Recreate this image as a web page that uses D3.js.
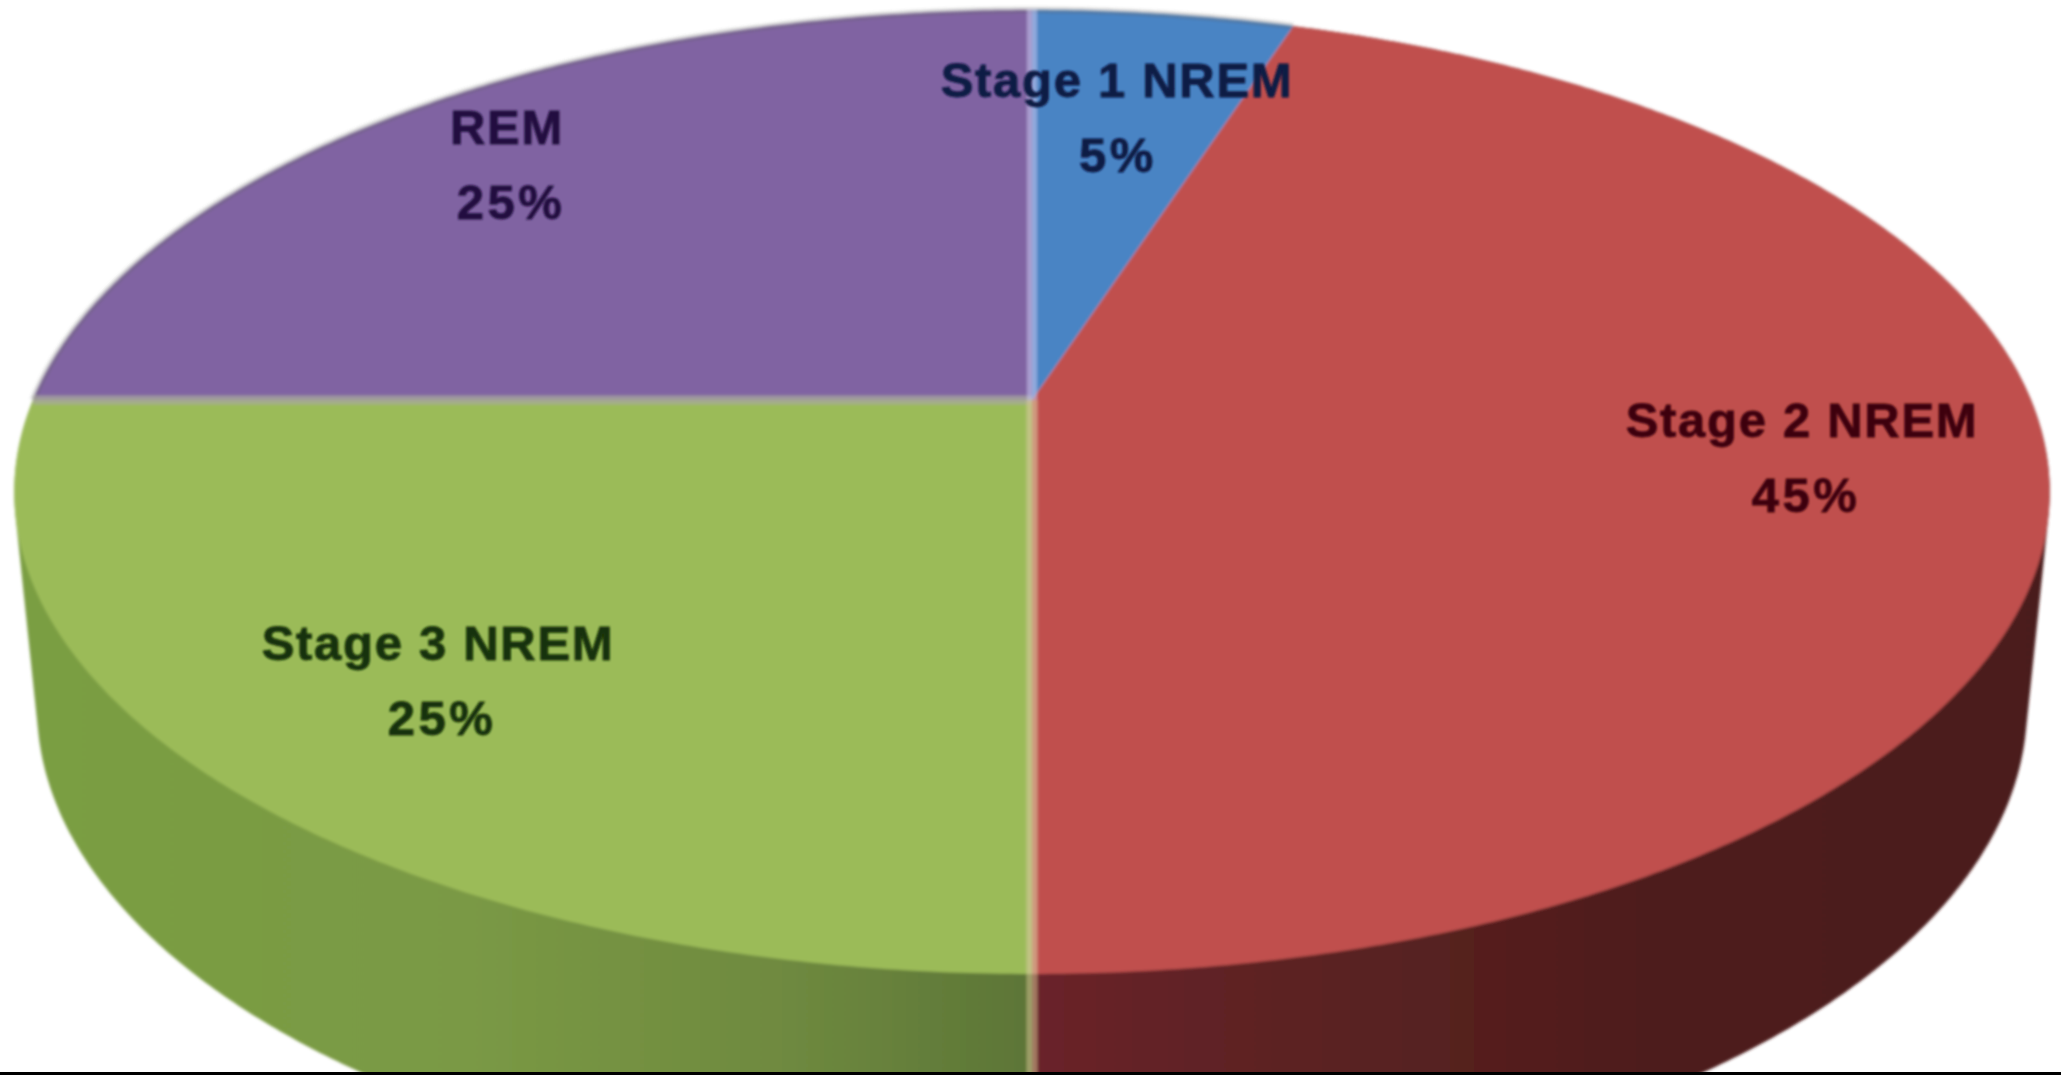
<!DOCTYPE html>
<html>
<head>
<meta charset="utf-8">
<script src="https://cdnjs.cloudflare.com/ajax/libs/d3/7.8.5/d3.min.js"></script>
<style>html,body{margin:0;padding:0;background:#fff;overflow:hidden}svg{display:block}</style>
</head>
<body>
<script>
const categories = ["Stage 1 NREM", "Stage 2 NREM", "Stage 3 NREM", "REM"];
const values = [5, 45, 25, 25];
const valueLabels = ["5%", "45%", "25%", "25%"];

const topColors = ["#4a84c4", "#c0504d", "#9bbb59", "#8064a2"];
const textColors = ["#0e1a44", "#3e060c", "#143008", "#22103f"];
const labelLayout = [
  {x1: 1117, y1: 97,  x2: 1118, y2: 172},
  {x1: 1802, y1: 437, x2: 1806, y2: 512},
  {x1: 438,  y1: 660, x2: 442,  y2: 735},
  {x1: 507,  y1: 144, x2: 511,  y2: 219}
];

const W = 2061, H = 1075;
const cx = 1032, cy = 400, s = 999, d = 464.4, a = -0.1909;
const bottom = {cy: 707, rx: 995, ry: 495};

const project = t => {
  const u = Math.sin(t), v = -Math.cos(t), k = 1 + a * v;
  return [cx + s * u / k, cy + d * v / k];
};
const projectBottom = t => [cx + bottom.rx * Math.sin(t), bottom.cy - bottom.ry * Math.cos(t)];
const sample = (t0, t1, f) => {
  const n = Math.max(8, Math.ceil((t1 - t0) * 120));
  return d3.range(n + 1).map(i => f(t0 + (t1 - t0) * i / n));
};

const svg = d3.select("body").append("svg").attr("width", W).attr("height", H);
const defs = svg.append("defs");
defs.append("filter").attr("id", "soft").attr("x", "-2%").attr("y", "-2%").attr("width", "104%").attr("height", "104%")
  .append("feGaussianBlur").attr("stdDeviation", 1.8);
defs.append("filter").attr("id", "softText").attr("x", "-5%").attr("y", "-20%").attr("width", "110%").attr("height", "140%")
  .append("feGaussianBlur").attr("stdDeviation", 1.1);
const gradient = (id, stops) => {
  const g = defs.append("linearGradient").attr("id", id)
    .attr("gradientUnits", "userSpaceOnUse").attr("x1", 13).attr("x2", 2051).attr("y1", 0).attr("y2", 0);
  stops.forEach(([o, c]) => g.append("stop").attr("offset", o).attr("stop-color", c));
};
gradient("wallGreen", [[0, "#7a9e42"], [0.22, "#7a9944"], [0.38, "#6e893f"], [0.5, "#5c7536"]]);
gradient("wallRed",   [[0.5, "#6a2229"], [0.62, "#5c2323"], [0.8, "#4e1c1b"], [1, "#4a1a1a"]]);
const wallFill = ["none", "url(#wallRed)", "url(#wallGreen)", "none"];

const pie = d3.pie().sort(null).startAngle(0).endAngle(2 * Math.PI);
const arcs = pie(values);
const line = d3.line();
const chart = svg.append("g").attr("filter", "url(#soft)");

// side walls
chart.selectAll("path.wall").data(arcs.filter((_, i) => wallFill[i] !== "none")).join("path")
  .attr("class", "wall")
  .attr("fill", d => wallFill[d.index])
  .attr("d", d => {
    const pts = sample(d.startAngle, d.endAngle, project).concat(sample(d.startAngle, d.endAngle, projectBottom));
    return line(d3.polygonHull(pts)) + "Z";
  });

// top faces
chart.selectAll("path.slice").data(arcs).join("path")
  .attr("class", "slice")
  .attr("fill", d => topColors[d.index])
  .attr("d", d => line([[cx, cy], ...sample(d.startAngle, d.endAngle, project)]) + "Z");

// darker outline on the far rim
chart.append("path").attr("fill", "none").attr("stroke", "#555").attr("stroke-opacity", 0.28).attr("stroke-width", 6)
  .attr("d", line(sample(-Math.PI / 2, Math.PI * 0.1, project)));

// seams between slices
const seam = (t, color, op, w) => chart.append("path").attr("fill", "none")
  .attr("stroke", color).attr("stroke-opacity", op).attr("stroke-width", w)
  .attr("d", line([[cx, cy], project(t)]));
seam(arcs[2].endAngle, "#a8a89c", 0.75, 9);
seam(arcs[0].startAngle, "#c8c8f0", 0.55, 10);
seam(arcs[1].endAngle, "#d8c8a0", 0.6, 11);
chart.append("path").attr("fill", "none").attr("stroke", "#d0c090").attr("stroke-opacity", 0.55).attr("stroke-width", 11)
  .attr("d", line([project(Math.PI), [cx, H]]));

// labels
const labels = svg.append("g").attr("font-family", "'Liberation Sans', Arial, sans-serif")
  .attr("font-weight", 700).attr("font-size", 49).attr("text-anchor", "middle")
  .attr("letter-spacing", 1.7).attr("stroke-width", 0.8).attr("filter", "url(#softText)");
categories.forEach((c, i) => {
  const p = labelLayout[i];
  labels.append("text").attr("x", p.x1).attr("y", p.y1).attr("fill", textColors[i]).attr("stroke", textColors[i]).text(c);
  labels.append("text").attr("x", p.x2).attr("y", p.y2).attr("fill", textColors[i]).attr("stroke", textColors[i]).attr("letter-spacing", 3.5).text(valueLabels[i]);
});

// bottom edge band
svg.append("rect").attr("x", 0).attr("y", 1072).attr("width", W).attr("height", 3).attr("fill", "#000");
</script>
</body>
</html>
